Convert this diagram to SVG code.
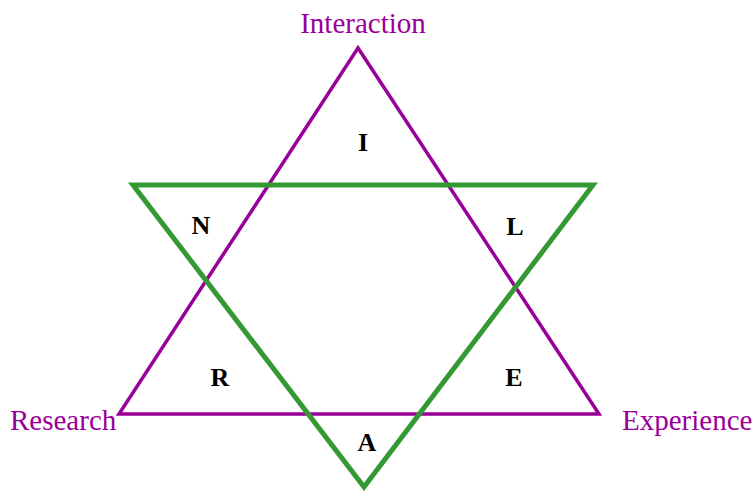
<svg xmlns="http://www.w3.org/2000/svg" width="753" height="491" viewBox="0 0 753 491">
<style>
.lbl{font-family:"Liberation Serif","Times New Roman",serif;font-size:29px;fill:#990099}
.ltr{font-family:"Liberation Serif","Times New Roman",serif;font-size:26px;font-weight:bold;fill:#000;text-anchor:middle}
</style>
<rect width="753" height="491" fill="#fff"/>
<g id="connectors">
<polygon id="purple" points="358,48 119,414 599,414" fill="none" stroke="#990099" stroke-width="3.5" stroke-linejoin="miter"/>
<polygon id="green" points="133,185 593,185 364,487" fill="none" stroke="#339933" stroke-width="5" stroke-linejoin="miter"/>
</g>
<g id="interaction"><text class="lbl" x="363" y="33" text-anchor="middle">Interaction</text></g>
<g id="research"><text class="lbl" x="10" y="430">Research</text></g>
<g id="experience"><text class="lbl" x="622" y="430">Experience</text></g>
<g id="I"><text class="ltr" x="363" y="151">I</text></g>
<g id="N"><text class="ltr" x="201" y="234">N</text></g>
<g id="L"><text class="ltr" x="515" y="235">L</text></g>
<g id="R"><text class="ltr" x="220" y="386">R</text></g>
<g id="E"><text class="ltr" x="514" y="386">E</text></g>
<g id="A"><text class="ltr" x="367" y="451">A</text></g>
</svg>
